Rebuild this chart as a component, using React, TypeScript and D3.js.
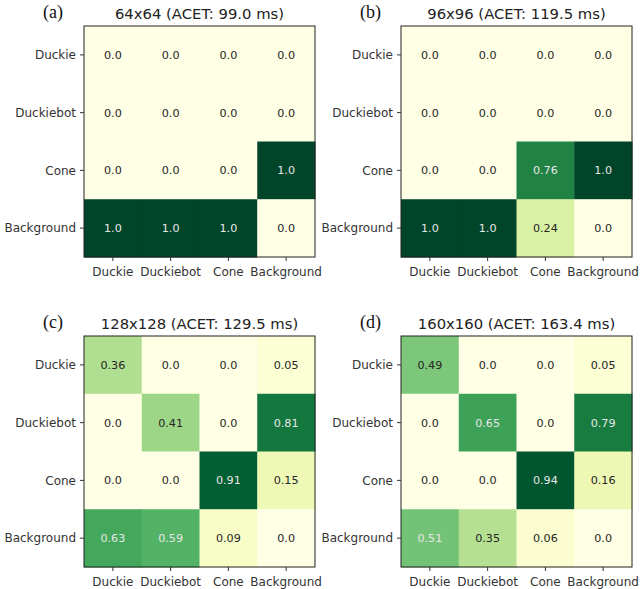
import React from "react";
import * as d3 from "d3";

const classes = ["Duckie", "Duckiebot", "Cone", "Background"];
const panelLetters = ["(a)", "(b)", "(c)", "(d)"];
const panelTitles = [
  "64x64 (ACET: 99.0 ms)",
  "96x96 (ACET: 119.5 ms)",
  "128x128 (ACET: 129.5 ms)",
  "160x160 (ACET: 163.4 ms)",
];
// rows = y labels (top to bottom), columns = x labels
const matrixA = [
  [0.0, 0.0, 0.0, 0.0],
  [0.0, 0.0, 0.0, 0.0],
  [0.0, 0.0, 0.0, 1.0],
  [1.0, 1.0, 1.0, 0.0],
];
const matrixB = [
  [0.0, 0.0, 0.0, 0.0],
  [0.0, 0.0, 0.0, 0.0],
  [0.0, 0.0, 0.76, 1.0],
  [1.0, 1.0, 0.24, 0.0],
];
const matrixC = [
  [0.36, 0.0, 0.0, 0.05],
  [0.0, 0.41, 0.0, 0.81],
  [0.0, 0.0, 0.91, 0.15],
  [0.63, 0.59, 0.09, 0.0],
];
const matrixD = [
  [0.49, 0.0, 0.0, 0.05],
  [0.0, 0.65, 0.0, 0.79],
  [0.0, 0.0, 0.94, 0.16],
  [0.51, 0.35, 0.06, 0.0],
];
const matrices = [matrixA, matrixB, matrixC, matrixD];

const W = 640;
const H = 589;
const panelOrigins = [
  { x: 84, y: 26 },
  { x: 401, y: 26 },
  { x: 84, y: 336 },
  { x: 401, y: 336 },
];
const PW = 231;
const PH = 231;

const color = d3.scaleSequential(d3.interpolateYlGn).domain([0, 1]);
const fmt = (v: number) => (v === 0 || v === 1 ? v.toFixed(1) : String(v));

function Panel({ idx }: { idx: number }) {
  const o = panelOrigins[idx];
  const m = matrices[idx];
  const x = d3.scaleBand<string>().domain(classes).range([0, PW]);
  const y = d3.scaleBand<string>().domain(classes).range([0, PH]);
  const font = "DejaVu Sans, sans-serif";
  return (
    <g transform={`translate(${o.x},${o.y})`}>
      {m.map((row, ri) =>
        row.map((v, ci) => (
          <rect
            key={`${ri}-${ci}`}
            x={x(classes[ci])!}
            y={y(classes[ri])!}
            width={x.bandwidth() + 0.5}
            height={y.bandwidth() + 0.5}
            fill={color(v)}
          />
        ))
      )}
      {m.map((row, ri) =>
        row.map((v, ci) => (
          <text
            key={`t${ri}-${ci}`}
            x={x(classes[ci])! + x.bandwidth() / 2}
            y={y(classes[ri])! + y.bandwidth() / 2}
            dy="0.36em"
            textAnchor="middle"
            fontFamily={font}
            fontSize={11.2}
            fill={v > 0.5 ? "#e6e6e6" : "#262626"}
          >
            {fmt(v)}
          </text>
        ))
      )}
      <rect x={0} y={0} width={PW} height={PH} fill="none" stroke="#222" strokeWidth={1} />
      {classes.map((c) => (
        <g key={`y${c}`}>
          <line x1={-4} x2={0} y1={y(c)! + y.bandwidth() / 2} y2={y(c)! + y.bandwidth() / 2} stroke="#333" />
          <text
            x={-8}
            y={y(c)! + y.bandwidth() / 2}
            dy="0.36em"
            textAnchor="end"
            fontFamily={font}
            fontSize={12}
            fill="#333"
          >
            {c}
          </text>
        </g>
      ))}
      {classes.map((c) => (
        <g key={`x${c}`}>
          <line x1={x(c)! + x.bandwidth() / 2} x2={x(c)! + x.bandwidth() / 2} y1={PH} y2={PH + 4} stroke="#333" />
          <text
            x={x(c)! + x.bandwidth() / 2}
            y={PH + 19}
            textAnchor="middle"
            fontFamily={font}
            fontSize={12}
            fill="#333"
          >
            {c}
          </text>
        </g>
      ))}
      <text
        x={PW / 2}
        y={-7.5}
        textAnchor="middle"
        fontFamily={font}
        fontSize={14.8}
        fill="#222"
      >
        {panelTitles[idx]}
      </text>
      <text
        x={-41}
        y={-8}
        textAnchor="start"
        fontFamily="Liberation Serif, Times New Roman, serif"
        fontSize={18}
        fill="#111"
      >
        {panelLetters[idx]}
      </text>
    </g>
  );
}

export default function App() {
  return (
    <svg width={W} height={H} style={{ display: "block", position: "absolute", left: 0, top: 0, background: "#fff" }}>
      <rect width={W} height={H} fill="#fff" />
      {matrices.map((_, i) => (
        <Panel key={i} idx={i} />
      ))}
    </svg>
  );
}
